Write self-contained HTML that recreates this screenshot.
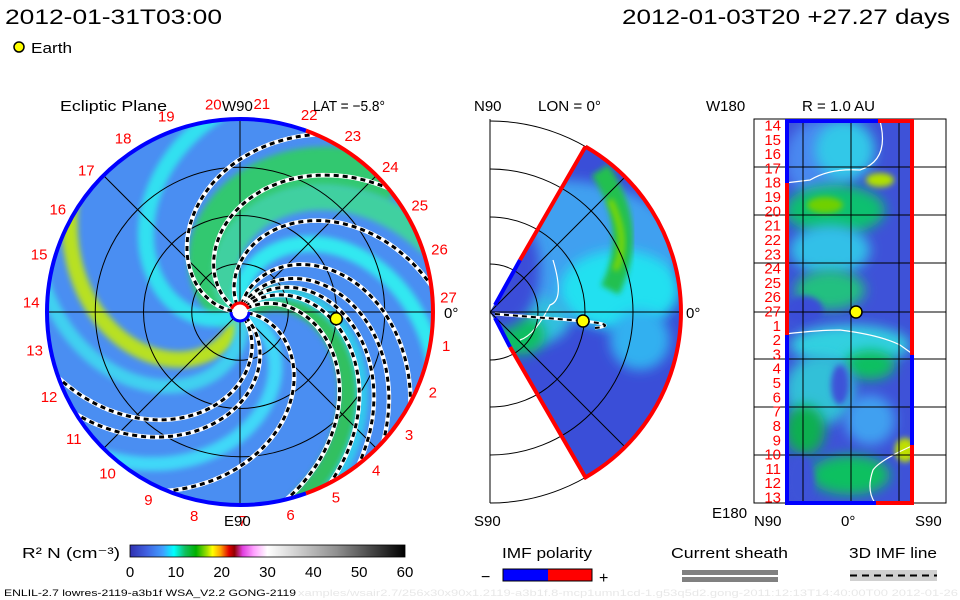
<!DOCTYPE html>
<html><head><meta charset="utf-8"><style>
body{margin:0;background:#fff;width:960px;height:600px;overflow:hidden}
svg{display:block;font-family:"Liberation Sans",sans-serif}
</style></head><body>
<svg id="s" width="960" height="600" viewBox="0 0 960 600">
<defs>
<clipPath id="ecl"><circle cx="240" cy="312" r="193"/></clipPath>
<clipPath id="mer"><path d="M490,312 L585.5,146.6 A191,191 0 0 1 585.5,477.4 Z"/></clipPath>
<clipPath id="rect"><rect x="785" y="121" width="129" height="382"/></clipPath>
<filter id="bl" x="-50%" y="-50%" width="200%" height="200%"><feGaussianBlur stdDeviation="6"/></filter>
<filter id="bl2" x="-50%" y="-50%" width="200%" height="200%"><feGaussianBlur stdDeviation="3"/></filter>
<linearGradient id="cbar" x1="0" x2="1" y1="0" y2="0">
<stop offset="0" stop-color="#3030b0"/><stop offset="0.06" stop-color="#4060e0"/><stop offset="0.12" stop-color="#40a0ff"/>
<stop offset="0.16" stop-color="#00ffff"/><stop offset="0.2" stop-color="#10c060"/><stop offset="0.24" stop-color="#00b000"/>
<stop offset="0.28" stop-color="#a0e000"/><stop offset="0.3" stop-color="#ffff00"/><stop offset="0.33" stop-color="#ffa000"/>
<stop offset="0.36" stop-color="#e00000"/><stop offset="0.38" stop-color="#900000"/><stop offset="0.41" stop-color="#e040e0"/>
<stop offset="0.45" stop-color="#ffa0ff"/><stop offset="0.5" stop-color="#ffffff"/><stop offset="0.75" stop-color="#909090"/>
<stop offset="1" stop-color="#000000"/></linearGradient>
</defs>

<text x="5" y="24" font-size="21" textLength="217" lengthAdjust="spacingAndGlyphs">2012-01-31T03:00</text>
<text x="622" y="24" font-size="21" textLength="328" lengthAdjust="spacingAndGlyphs">2012-01-03T20 +27.27 days</text>
<circle cx="19" cy="47" r="5" fill="#ffff00" stroke="#000" stroke-width="1.5"/>
<text x="31" y="53" font-size="15" textLength="41" lengthAdjust="spacingAndGlyphs">Earth</text>

<!-- Ecliptic panel -->
<g id="ecliptic">
<circle cx="240" cy="312" r="193" fill="#4a8ef2"/>
<g id="bands" clip-path="url(#ecl)"></g>
<g id="rings"></g>
<g id="spirals" clip-path="url(#ecl)"></g>
<g id="border"></g>
<g id="labels"></g>
<text x="60" y="111" font-size="15" textLength="107" lengthAdjust="spacingAndGlyphs">Ecliptic Plane</text>
<text x="222" y="111" font-size="15">W90</text>
<text x="313" y="111" font-size="15" textLength="72" lengthAdjust="spacingAndGlyphs">LAT = −5.8°</text>
<text x="224" y="526" font-size="15">E90</text>
<text x="444" y="318" font-size="15">0°</text>
</g>

<!-- Meridional panel -->
<g id="meridian">
<path d="M490,312 L585.5,146.6 A191,191 0 0 1 585.5,477.4 Z" fill="#3a4ed8"/>
<g clip-path="url(#mer)">
<ellipse cx="560" cy="250" rx="120" ry="70" fill="#3fa0f0" filter="url(#bl)"/>
<ellipse cx="620" cy="290" rx="60" ry="40" fill="#20e0f0" filter="url(#bl)"/>
<ellipse cx="530" cy="320" rx="40" ry="25" fill="#30c0e0" filter="url(#bl)"/>
<ellipse cx="520" cy="335" rx="25" ry="20" fill="#10c060" filter="url(#bl)"/>
<path d="M600,170 Q640,230 610,290" stroke="#20c050" stroke-width="20" fill="none" filter="url(#bl2)"/>
<path d="M610,200 Q630,240 615,270" stroke="#80d800" stroke-width="6" fill="none" filter="url(#bl2)"/>
<ellipse cx="500" cy="270" rx="40" ry="60" fill="#3a4ed8" filter="url(#bl)"/>
<ellipse cx="640" cy="340" rx="30" ry="30" fill="#30b0f0" filter="url(#bl)"/>
<path d="M553,260 Q565,300 550,305 Q535,335 520,340" stroke="#fff" stroke-width="1.2" fill="none"/>
</g>
<g id="merGrid" fill="none" stroke="#000" stroke-width="1"></g>
<line x1="490" y1="119" x2="490" y2="503" stroke="#000"/>
<line x1="490" y1="312" x2="681" y2="312" stroke="#000"/>
<line x1="490" y1="312" x2="625" y2="177" stroke="#000"/>
<line x1="490" y1="312" x2="625" y2="447" stroke="#000"/>
<path d="M585.5,146.6 A191,191 0 0 1 585.5,477.4 L510,347 M585.5,146.6 L520,260" fill="none" stroke="#f00" stroke-width="4"/>
<path d="M495,305 L520,260 M495,318 L510,347" stroke="#00f" stroke-width="4"/>
<path d="M495,314 L583,321 Q620,325 595,328" stroke="#fff" stroke-width="3" fill="none"/>
<path d="M495,314 L583,321 Q620,325 595,328" stroke="#000" stroke-width="2" stroke-dasharray="5 4" fill="none"/>
<circle cx="583" cy="321" r="6" fill="#ffff00" stroke="#000" stroke-width="1.5"/>
<text x="474" y="111" font-size="15">N90</text>
<text x="538" y="111" font-size="15" textLength="63" lengthAdjust="spacingAndGlyphs">LON = 0°</text>
<text x="474" y="526" font-size="15">S90</text>
<text x="686" y="318" font-size="15">0°</text>
</g>

<!-- R = 1 AU panel -->
<g id="sphere">
<rect x="754" y="119" width="192" height="384" fill="#fff" stroke="#000"/>
<rect x="785" y="121" width="129" height="382" fill="#3e52d8"/>
<g clip-path="url(#rect)">
<ellipse cx="820" cy="160" rx="35" ry="40" fill="#4a88f0" filter="url(#bl)"/>
<ellipse cx="845" cy="150" rx="30" ry="30" fill="#30c8e8" filter="url(#bl)"/>
<ellipse cx="835" cy="210" rx="50" ry="25" fill="#10c070" filter="url(#bl)"/>
<ellipse cx="825" cy="205" rx="18" ry="8" fill="#70d000" filter="url(#bl2)"/>
<ellipse cx="880" cy="180" rx="14" ry="7" fill="#b0e000" filter="url(#bl2)"/>
<ellipse cx="830" cy="250" rx="40" ry="25" fill="#30c0e8" filter="url(#bl)"/>
<ellipse cx="830" cy="290" rx="35" ry="20" fill="#20c080" filter="url(#bl)"/>
<ellipse cx="805" cy="310" rx="18" ry="14" fill="#3a4ed8" filter="url(#bl2)"/>
<ellipse cx="850" cy="345" rx="60" ry="20" fill="#30d0e0" filter="url(#bl)"/>
<ellipse cx="870" cy="365" rx="25" ry="15" fill="#10c060" filter="url(#bl)"/>
<ellipse cx="820" cy="390" rx="35" ry="35" fill="#30c0d8" filter="url(#bl)"/>
<ellipse cx="840" cy="385" rx="9" ry="20" fill="#3e52d8" filter="url(#bl2)"/>
<ellipse cx="805" cy="430" rx="20" ry="25" fill="#10b050" filter="url(#bl)"/>
<ellipse cx="870" cy="420" rx="25" ry="25" fill="#40a0f0" filter="url(#bl)"/>
<ellipse cx="850" cy="475" rx="40" ry="20" fill="#10c060" filter="url(#bl)"/>
<ellipse cx="905" cy="450" rx="10" ry="12" fill="#c0e000" filter="url(#bl2)"/>
<ellipse cx="800" cy="480" rx="14" ry="25" fill="#3e52d8" filter="url(#bl2)"/>
<path d="M880,121 Q890,160 860,170 Q830,168 810,180 L785,183" stroke="#fff" stroke-width="1.2" fill="none"/>
<path d="M785,334 Q820,330 840,330 Q880,335 900,345 L914,355" stroke="#fff" stroke-width="1.2" fill="none"/>
<path d="M914,445 Q880,460 873,470 Q866,490 875,503" stroke="#fff" stroke-width="1.2" fill="none"/>
</g>
<g id="sphGrid" stroke="#000" stroke-width="1"></g>
<path d="M787,121 L787,183 M787,335 L787,503 M785,503 L876,503 M785,121 L878,121" stroke="#00f" stroke-width="4" fill="none"/>
<path d="M787,183 L787,335 M912,121 L912,355 M912,445 L912,503 M876,503 L914,503 M878,121 L914,121" stroke="#f00" stroke-width="4" fill="none"/>
<path d="M912,355 L912,445" stroke="#00f" stroke-width="4"/>
<circle cx="856" cy="312" r="6" fill="#ffff00" stroke="#000" stroke-width="1.5"/>
<g id="sphLabels"></g>
<text x="706" y="111" font-size="15">W180</text>
<text x="802" y="111" font-size="15" textLength="73" lengthAdjust="spacingAndGlyphs">R = 1.0 AU</text>
<text x="712" y="518" font-size="15">E180</text>
<text x="754" y="526" font-size="15">N90</text>
<text x="841" y="526" font-size="15">0°</text>
<text x="915" y="526" font-size="15">S90</text>
</g>

<!-- Colorbar -->
<g>
<text x="22" y="558" font-size="15" textLength="98" lengthAdjust="spacingAndGlyphs">R² N (cm⁻³)</text>
<rect x="130" y="545" width="275" height="12" fill="url(#cbar)" stroke="#000" stroke-width="0.8"/>
<g id="cbTicks"></g>
</g>

<g>
<text x="502" y="558" font-size="15" textLength="90" lengthAdjust="spacingAndGlyphs">IMF polarity</text>
<text x="481" y="582" font-size="16">−</text>
<rect x="503" y="569" width="45" height="12" fill="#00f"/>
<rect x="548" y="569" width="44" height="12" fill="#f00"/>
<rect x="503" y="569" width="89" height="12" fill="none" stroke="#000"/>
<text x="599" y="583" font-size="16">+</text>
</g>
<g>
<text x="671" y="558" font-size="15" textLength="117" lengthAdjust="spacingAndGlyphs">Current sheath</text>
<rect x="682" y="570" width="96" height="5" fill="#808080"/>
<rect x="682" y="577" width="96" height="5" fill="#808080"/>
</g>
<g>
<text x="849" y="558" font-size="15" textLength="88" lengthAdjust="spacingAndGlyphs">3D IMF line</text>
<rect x="850" y="570" width="87" height="11" fill="#d0d0d0"/>
<line x1="850" y1="575.5" x2="937" y2="575.5" stroke="#000" stroke-width="2" stroke-dasharray="7 5"/>
</g>
<text x="4" y="596" font-size="9.5" textLength="292" lengthAdjust="spacingAndGlyphs">ENLIL-2.7 lowres-2119-a3b1f WSA_V2.2 GONG-2119</text>
<text x="298" y="596" font-size="9.5" fill="#e8e8e8" textLength="660" lengthAdjust="spacingAndGlyphs">xamples/wsair2.7/256x30x90x1.2119-a3b1f.8-mcp1umn1cd-1.g53q5d2.gong-2011:12:13T14:40:00T00    2012-01-26</text>
</svg>
<script>
// ---- data ----
const spiralEndAngles = [67, 40, 8, -28, -42, -52, -62, -76, 200, 212, 248]; // deg at 2 AU
const bandEndAngles = [152, 45, 25, -68, 100, -10, 230, 175, 300];
const bandColors = ["#b8e020", "#30c870", "#40d0a0", "#30c060", "#30e0f0", "#30e8f0", "#40d8f8", "#40d0f0", "#30c8f0"];
const bandWidths = [16, 42, 26, 24, 16, 16, 14, 14, 12];
const carringtonLabels = [1,2,3,4,5,6,7,8,9,10,11,12,13,14,15,16,17,18,19,20,21,22,23,24,25,26,27];
const sphereLabels = [14,15,16,17,18,19,20,21,22,23,24,25,26,27,1,2,3,4,5,6,7,8,9,10,11,12,13];
const cbTickValues = [0,10,20,30,40,50,60];
const earthAU = 1.0;

const NS = "http://www.w3.org/2000/svg";
const cx = 240, cy = 312, R = 193, AU = R/2, twist = 55;
function mk(tag, attrs, parent){const e=document.createElementNS(NS,tag);for(const k in attrs)e.setAttribute(k,attrs[k]);parent.appendChild(e);return e;}
function pt(r, deg){const a=deg*Math.PI/180;return [cx+r*Math.cos(a), cy-r*Math.sin(a)];}
function spiralPath(endDeg){let d="";for(let i=0;i<=60;i++){const rau=0.08+i*(2.1-0.08)/60;const th=endDeg+twist*(2-rau);const p=pt(rau*AU,th);d+=(i?"L":"M")+p[0].toFixed(1)+","+p[1].toFixed(1);}return d;}

const bands=document.getElementById("bands");
bandEndAngles.forEach((a,i)=>{
  const p=mk("path",{d:spiralPath(a),stroke:bandColors[i],"stroke-width":bandWidths[i],fill:"none",filter:"url(#bl2)"},bands);
  
  
});
const rings=document.getElementById("rings");
[0.5,1,1.5].forEach(r=>mk("circle",{cx:cx,cy:cy,r:r*AU,fill:"none",stroke:"#000","stroke-width":1},rings));
[0,45,90,135].forEach(a=>{const p1=pt(R,a),p2=pt(R,a+180);mk("line",{x1:p1[0],y1:p1[1],x2:p2[0],y2:p2[1],stroke:"#000","stroke-width":1},rings);});
const sp=document.getElementById("spirals");
spiralEndAngles.forEach(a=>{
  const d=spiralPath(a);
  mk("path",{d:d,stroke:"#fff","stroke-width":4.5,fill:"none"},sp);
  const p=mk("path",{d:d,stroke:"#000","stroke-width":3,"stroke-dasharray":"5 4",fill:"none"},sp);
  
  
});
const border=document.getElementById("border");
function arc(r,a1,a2){const p1=pt(r,a1),p2=pt(r,a2);const large=(a2-a1)>180?1:0;return `M${p1[0]},${p1[1]} A${r},${r} 0 ${large} 0 ${p2[0]},${p2[1]}`;}
const bb=mk("path",{d:arc(R,70,290),stroke:"#00f","stroke-width":4,fill:"none"},border);


const rb=mk("path",{d:arc(R,-70,70),stroke:"#f00","stroke-width":4,fill:"none"},border);


mk("circle",{cx:cx,cy:cy,r:8,fill:"#fff"},border);
mk("path",{d:arc(9,20,160),stroke:"#f00","stroke-width":3,fill:"none"},border);
mk("path",{d:arc(9,180,360),stroke:"#00f","stroke-width":3,fill:"none"},border);
const ep=pt(earthAU*AU,-4);
const em=mk("circle",{cx:ep[0],cy:ep[1],r:6,fill:"#ffff00",stroke:"#000","stroke-width":1.5},border);


const labels=document.getElementById("labels");
carringtonLabels.forEach(n=>{
  const a=4-13.333*n;const p=pt(R+16,a);
  const t=mk("text",{x:p[0],y:p[1]+5,"font-size":15,fill:"#f00","text-anchor":"middle"},labels);
  t.textContent=n;
  
  
});
// meridional grid
const mg=document.getElementById("merGrid");
[48,95,143,191].forEach(r=>mk("path",{d:`M490,${312-r} A${r},${r} 0 0 1 490,${312+r}`},mg));
// sphere grid
const sg=document.getElementById("sphGrid");
[167,215,263,312,359,407,455].forEach(y=>mk("line",{x1:754,y1:y,x2:946,y2:y},sg));
[803,851,899].forEach(x=>mk("line",{x1:x,y1:121,x2:x,y2:503},sg));
const sl=document.getElementById("sphLabels");
sphereLabels.forEach((n,i)=>{
  const y=125+i*(372/26);
  const t=mk("text",{x:781,y:y+5.5,"font-size":15,fill:"#f00","text-anchor":"end"},sl);
  t.textContent=n;
  
  
});
// colorbar ticks
const cb=document.getElementById("cbTicks");
cbTickValues.forEach(v=>{
  const x=130+v/60*275;
  const t=mk("text",{x:x,y:577,"font-size":15,"text-anchor":"middle"},cb);
  t.textContent=v;
  
  
});
</script>
</body></html>
